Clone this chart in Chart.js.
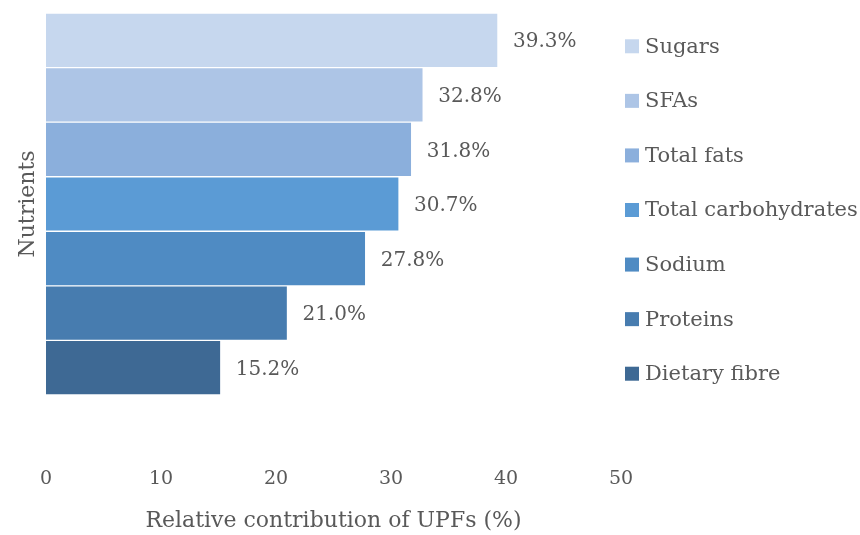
<!DOCTYPE html>
<html>
<head>
<meta charset="utf-8">
<script src="https://cdn.jsdelivr.net/npm/chart.js@4/dist/chart.umd.min.js"></script>
<style>
  html,body{margin:0;padding:0;background:#fff;}
  #wrap{width:860px;height:535px;position:relative;}
</style>
</head>
<body>
<div id="wrap"><canvas id="upfChart"></canvas></div>
<script>
/* ── DATA ── */
const nutrients = ['Sugars','SFAs','Total fats','Total carbohydrates','Sodium','Proteins','Dietary fibre'];
const shares    = [39.3, 32.8, 31.8, 30.7, 27.8, 21.0, 15.2];
const barColors = ['#c6d7ee','#adc5e6','#8bafdc','#5b9bd5','#4f8bc3','#477caf','#3e6994'];
const xTicks    = [0, 10, 20, 30, 40, 50];

const FONT = "'DejaVu Serif', serif";
const GREY = '#595959';

// value labels to the right of each bar
const barLabels = {
  id:'barLabels',
  afterDatasetsDraw(chart){
    const {ctx} = chart;
    const meta = chart.getDatasetMeta(0);
    ctx.save();
    ctx.font = `20px ${FONT}`;
    ctx.fillStyle = GREY;
    ctx.textAlign = 'left';
    ctx.textBaseline = 'middle';
    meta.data.forEach((bar,i)=>{
      ctx.fillText(shares[i].toFixed(1)+'%', bar.x+15, bar.y+2);
    });
    ctx.restore();
  }
};

// legend on the right, one row per bar
const sideLegend = {
  id:'sideLegend',
  afterDraw(chart){
    const {ctx, chartArea} = chart;
    const y = chart.scales.y;
    ctx.save();
    ctx.font = `21px ${FONT}`;
    ctx.textAlign = 'left';
    ctx.textBaseline = 'middle';
    nutrients.forEach((n,i)=>{
      const cy = y.getPixelForValue(i) + 6;
      const bx = chartArea.right + 4;
      ctx.fillStyle = barColors[i];
      ctx.fillRect(bx, cy-7, 14, 14);
      ctx.fillStyle = GREY;
      ctx.fillText(n, bx+20, cy+1);
    });
    ctx.restore();
  }
};

new Chart(document.getElementById('upfChart').getContext('2d'),{
  type:'bar',
  data:{
    labels:nutrients,
    datasets:[{
      label:'Relative contribution of UPFs (%)',
      data:shares,
      backgroundColor:barColors,
      borderColor:'rgba(255,255,255,0.2)',
      borderWidth:1,
      barPercentage:1,
      categoryPercentage:1
    }]
  },
  options:{
    indexAxis:'y',
    responsive:true, maintainAspectRatio:false, animation:false,
    layout:{ padding:{ left:12, right:239, top:13, bottom:1 } },
    plugins:{ legend:{display:false}, tooltip:{enabled:false} },
    scales:{
      x:{
        min:0, max:50,
        afterBuildTicks(s){ s.ticks = xTicks.map(v=>({value:v})); },
        // big tick padding pushes labels down; keep it out of the side padding
        afterFit(s){ s.height = 139; s.paddingLeft = 6; s.paddingRight = 6; },
        grid:{display:false, drawTicks:false}, border:{display:false},
        ticks:{ padding:73, color:GREY, font:{family:FONT, size:19} },
        title:{ display:true, text:'Relative contribution of UPFs (%)', color:GREY,
                font:{family:FONT, size:22}, padding:{top:18, bottom:0} }
      },
      y:{
        afterFit(s){ s.width = 34; },
        grid:{display:false, drawTicks:false}, border:{display:false},
        ticks:{display:false},
        title:{ display:true, text:'Nutrients', color:GREY,
                font:{family:FONT, size:22}, padding:{top:3, bottom:4} }
      }
    }
  },
  plugins:[barLabels, sideLegend]
});
</script>
</body>
</html>
